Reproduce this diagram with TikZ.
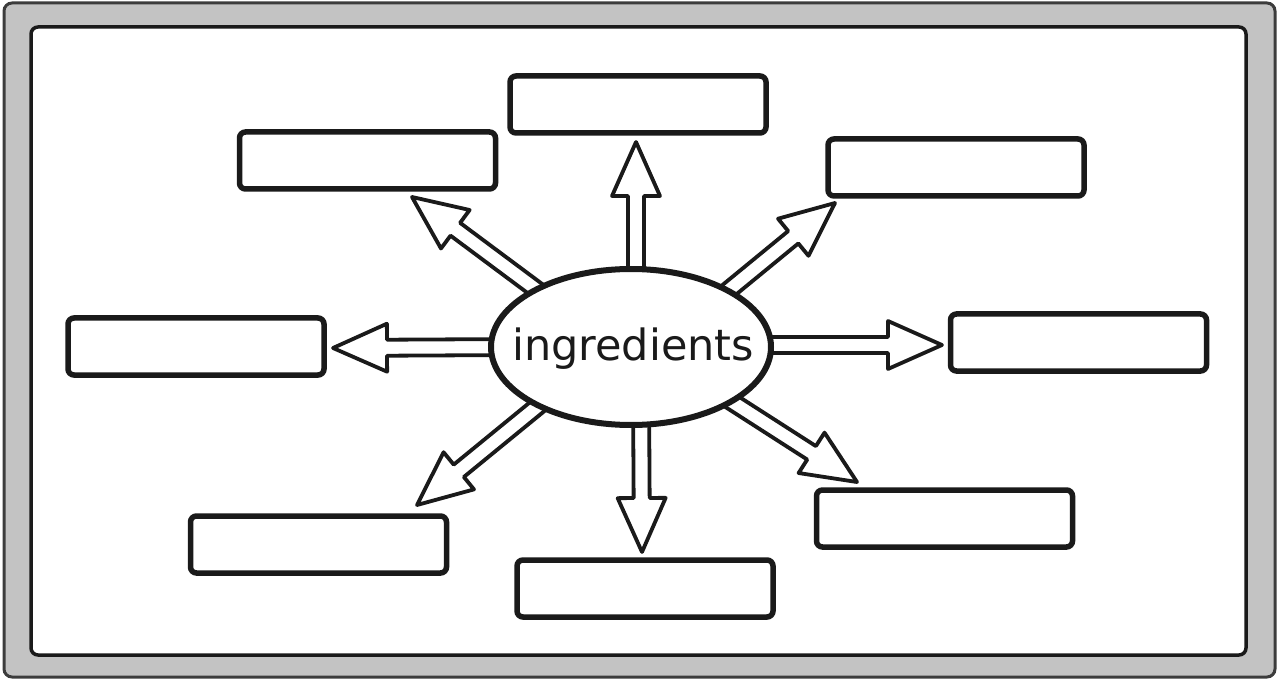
\documentclass[tikz,border=0pt]{standalone}
\usepackage{fontspec}
\setmainfont{DejaVu Sans}
\usetikzlibrary{calc,shapes.geometric}
\definecolor{ink}{HTML}{1A1A1A}
\definecolor{framegray}{HTML}{C3C3C3}
\tikzset{
  box/.style={draw=ink, line width=5.5pt, rounded corners=6pt, fill=white, minimum width=256pt, minimum height=57pt, inner sep=0pt},
  arrowline/.style={draw=ink, line width=3.8pt, fill=white, line join=round},
  hub/.style={ellipse, draw=ink, line width=6pt, fill=white, minimum width=280pt, minimum height=156pt, inner sep=0pt},
}
\newcommand\blockarr[2]{%
  \coordinate (hh) at ($(#2)!54pt!(#1)$);
  \draw[arrowline] ($(#1)!8pt!90:(#2)$) -- ($(hh)!8pt!90:(#2)$) -- ($(hh)!24pt!90:(#2)$) -- (#2)
    -- ($(hh)!24pt!-90:(#2)$) -- ($(hh)!8pt!-90:(#2)$) -- ($(#1)!8pt!-90:(#2)$) -- cycle;}
\begin{document}
\begin{tikzpicture}[x=1pt,y=-1pt]
\useasboundingbox (0,0) rectangle (1278,679);
% frame
\draw[draw=ink!85, line width=3pt, fill=framegray, rounded corners=8pt] (4,3) rectangle (1275,677);
\draw[draw=ink, line width=3.5pt, fill=white, rounded corners=7pt] (31,27) rectangle (1246,655);
% boxes
\node[box] (bt)  at (638,104.5) {};
\node[box] (btl) at (367.5,160.5) {};
\node[box] (btr) at (956,167.5) {};
\node[box] (bl)  at (196,346.5) {};
\node[box] (br)  at (1078.5,342.5) {};
\node[box] (bbl) at (318.5,544.5) {};
\node[box] (bb)  at (645,588.5) {};
\node[box] (bbr) at (944.5,518.5) {};
% arrow end points
\coordinate (sU) at (636,300);  \coordinate (tU) at (636,142);
\coordinate (sD) at (641,395);  \coordinate (tD) at (642,552);
\coordinate (sL) at (520,347);  \coordinate (tL) at (333,348);
\coordinate (sR) at (750,345);  \coordinate (tR) at (942,345);
\coordinate (sUL) at (549,299); \coordinate (tUL) at (412,197);
\coordinate (sUR) at (718,299); \coordinate (tUR) at (835,203);
\coordinate (sDL) at (549,397); \coordinate (tDL) at (417,505);
\coordinate (sDR) at (723,396); \coordinate (tDR) at (857,482);
\blockarr{sU}{tU}
\blockarr{sD}{tD}
\blockarr{sL}{tL}
\blockarr{sR}{tR}
\blockarr{sUL}{tUL}
\blockarr{sUR}{tUR}
\blockarr{sDL}{tDL}
\blockarr{sDR}{tDR}
% hub
\node[hub] (hub) at (631,347) {};
\node[anchor=base, inner sep=0pt, text=ink, font=\fontsize{43}{50}\selectfont] (lbl) at (633,360) {ingredients};
\end{tikzpicture}
\end{document}
